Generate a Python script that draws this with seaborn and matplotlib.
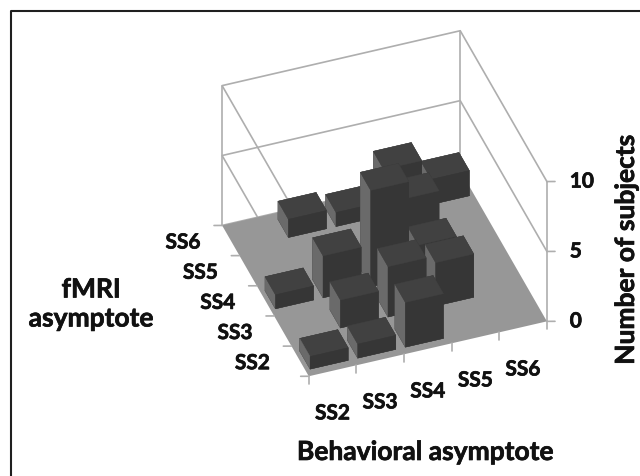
import numpy as np
import matplotlib
matplotlib.use("Agg")
import matplotlib.pyplot as plt
import matplotlib.patheffects as pe
from matplotlib.lines import Line2D
from mpl_toolkits.mplot3d import proj3d
from mpl_toolkits.mplot3d.art3d import Poly3DCollection
import seaborn as sns

# Categories
behav_labels = ["SS2", "SS3", "SS4", "SS5", "SS6"]
fmri_labels = ["SS2", "SS3", "SS4", "SS5", "SS6"]
z_ticks = [0, 5, 10]

# Number of subjects, one list per fMRI row (columns = behavioral)
row_ss2 = [0.9, 1.0, 3.2, 0, 0]
row_ss3 = [0, 2.0, 3.6, 3.1, 0]
row_ss4 = [1.0, 3.0, 6.9, 2.2, 0]
row_ss5 = [0, 0, 0, 3.3, 0]
row_ss6 = [0, 1.3, 1.0, 3.3, 1.8]
heights = np.array([row_ss2, row_ss3, row_ss4, row_ss5, row_ss6])

sns.set_theme(style="white")
plt.rcParams["font.family"] = ["Lato", "DejaVu Sans"]

grey_line = "#aeaeae"
floor_col = "#979797"
bar_cols = ["#3a3a3a", "#414141", "#363636", "#363636", "#6a6a6a", "#363636"]

fig = plt.figure(figsize=(6.4, 4.77), dpi=100)
ax = fig.add_axes([179.1 / 640, 67.1 / 477, 400 / 640, 400 / 477],
                  projection="3d", proj_type="ortho")
ax.set_box_aspect((1, 1, 0.713), zoom=0.974)
ax.view_init(elev=39.3, azim=-110)
ax.computed_zorder = False
ax.set_xlim(0, len(behav_labels))
ax.set_ylim(0, len(fmri_labels))
ax.set_zlim(0, z_ticks[-1])
ax.set_axis_off()
ax.patch.set_alpha(0)

nx, ny, zmax = len(behav_labels), len(fmri_labels), z_ticks[-1]

# Plancher
floor = Poly3DCollection([[(0, 0, 0), (nx, 0, 0), (nx, ny, 0), (0, ny, 0)]],
                         facecolors=floor_col, edgecolors="none", zorder=2)
ax.add_collection3d(floor)

# Murs : lignes de grille et aretes
for z in z_ticks[1:]:
    ax.plot([0, 0, nx, nx], [0, ny, ny, 0], [z, z, z, z], color=grey_line, lw=1.2, zorder=1)
ax.plot([0, 0], [0 + ny, ny], [0, zmax], color=grey_line, lw=1.2, zorder=1)
ax.plot([0, nx], [ny, ny], [0, 0], color=grey_line, lw=1.2, zorder=1)
ax.plot([nx, nx], [ny, ny], [0, zmax], color=grey_line, lw=1.2, zorder=1)
ax.plot([nx, nx], [0, 0], [0, zmax], color=grey_line, lw=1.2, zorder=1)

# Barres, de l'arriere vers l'avant
bar_dx = 0.8
bar_dy = 0.6
order = 10
for j in range(ny - 1, -1, -1):
    for i in range(nx - 1, -1, -1):
        h = heights[j, i]
        if h <= 0:
            continue
        ax.bar3d(i + 0.1, j + 0.2, 0, bar_dx, bar_dy, h, color=bar_cols,
                 edgecolor=bar_cols, linewidth=0.3, shade=False, zorder=order)
        order += 1

# Graduations
for i in range(nx + 1):
    ax.plot([i, i], [0, 0], [0, -0.55], color=grey_line, lw=1.2, zorder=3)
for j in range(ny + 1):
    ax.plot([0, -0.17], [j, j], [0, 0.13], color=grey_line, lw=1.2, zorder=3)
for z in z_ticks:
    ax.plot([nx, nx + 0.17], [0, 0], [z, z - 0.13], color=grey_line, lw=1.2, zorder=3)

# Etiquettes
heavy = [pe.withStroke(linewidth=0.5, foreground="#111111")]
font = dict(fontsize=15, fontweight="bold", color="#111111", path_effects=heavy)
M = ax.get_proj()


def label3d(x, y, z, s, ha):
    x2, y2, _ = proj3d.proj_transform(x, y, z, M)
    ax.text2D(x2, y2, s, transform=ax.transData, ha=ha, va="center", **font)


for i, lab in enumerate(behav_labels):
    label3d(i + 0.5, 0, -3.05, lab, "center")
for j, lab in enumerate(fmri_labels):
    label3d(-1, j + 0.5, 0.64, lab, "center")
for z in z_ticks:
    label3d(nx + 0.48, 0, z - 0.38, str(z), "left")

title_font = dict(fontsize=19, fontweight="bold", color="#111111",
                  ha="center", va="center", path_effects=heavy)
fig.text(425 / 640, 1 - 453 / 477, "Behavioral asymptote", **title_font)
fig.text(91 / 640, 1 - 305 / 477, "fMRI\nasymptote", linespacing=1.25, **title_font)
fig.text(626 / 640, 1 - 251 / 477, "Number of subjects", rotation=90, **title_font)

# Cadre noir (haut et gauche seulement)
fig.add_artist(Line2D([11 / 640, 11 / 640, 1], [0, 1 - 12 / 477, 1 - 12 / 477],
                      transform=fig.transFigure, color="#1f1f1f", lw=1.5))

plt.savefig("out.png", dpi=100)
